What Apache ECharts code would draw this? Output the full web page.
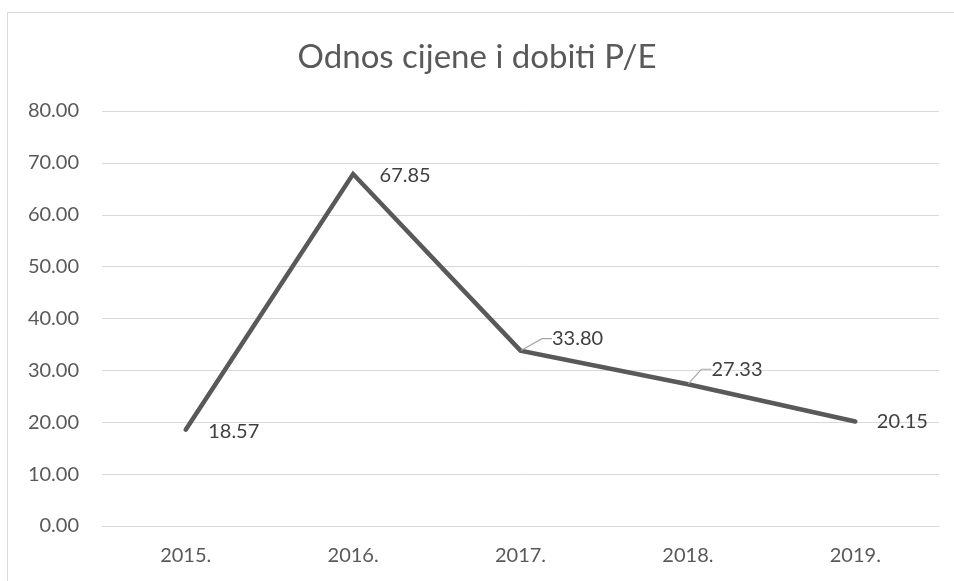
<!DOCTYPE html>
<html>
<head>
<meta charset="utf-8">
<script src="https://cdn.jsdelivr.net/npm/echarts@6/dist/echarts.min.js"></script>
<style>
  html, body { margin: 0; padding: 0; background: #fff; }
  #chart { width: 954px; height: 581px; }
</style>
</head>
<body>
<div id="chart"></div>
<script>
  var years = ["2015.", "2016.", "2017.", "2018.", "2019."];
  var peValues = [18.57, 67.85, 33.80, 27.33, 20.15];
  var yTicks = [0, 10, 20, 30, 40, 50, 60, 70, 80];

  // label offsets (dx, dy) and whether a leader line is drawn
  var labelShift = [[22, 2], [26, 2], [31, -12], [23, -15], [21, 0]];
  var withLeader = [false, false, true, true, false];

  var font = "Lato, 'Open Sans', sans-serif";
  var chart = echarts.init(document.getElementById("chart"));

  chart.setOption({
    animation: false,
    title: {
      text: "Odnos cijene i dobiti P/E",
      left: "center",
      top: 36,
      textStyle: { fontFamily: font, fontSize: 33, fontWeight: "normal", color: "#595959" }
    },
    graphic: [{
      type: "rect",
      shape: { x: 7.5, y: 12.5, width: 1000, height: 700 },
      style: { fill: "none", stroke: "#d9d9d9", lineWidth: 1 },
      silent: true
    }],
    grid: { left: 102, right: 15, top: 111, bottom: 55, containLabel: false },
    xAxis: {
      type: "category",
      data: years,
      boundaryGap: true,
      axisLine: { lineStyle: { color: "#d9d9d9" } },
      axisTick: { show: false },
      axisLabel: { fontFamily: font, fontSize: 20, color: "#595959", margin: 20 }
    },
    yAxis: {
      type: "value",
      min: yTicks[0],
      max: yTicks[yTicks.length - 1],
      interval: 10,
      axisLine: { show: false },
      axisTick: { show: false },
      splitLine: { lineStyle: { color: "#d9d9d9" } },
      axisLabel: {
        fontFamily: font, fontSize: 20, color: "#595959", margin: 23,
        formatter: function (v) { return v.toFixed(2); }
      }
    },
    series: [{
      type: "line",
      data: peValues.map(function (v, i) {
        return { value: v, labelLine: { show: withLeader[i] } };
      }),
      symbol: "circle",
      symbolSize: 1,
      showSymbol: true,
      itemStyle: { color: "#595959" },
      lineStyle: { color: "#595959", width: 4.5, cap: "round", join: "miter" },
      label: {
        show: true,
        position: "right",
        distance: 0,
        fontFamily: font,
        fontSize: 20,
        color: "#404040",
        formatter: function (p) { return p.value.toFixed(2); }
      },
      labelLine: { show: false, lineStyle: { color: "#a6a6a6", width: 1.2 }, length2: 10 },
      labelLayout: function (p) {
        var s = labelShift[p.dataIndex];
        return { dx: s[0], dy: s[1] };
      }
    }]
  });
</script>
</body>
</html>
